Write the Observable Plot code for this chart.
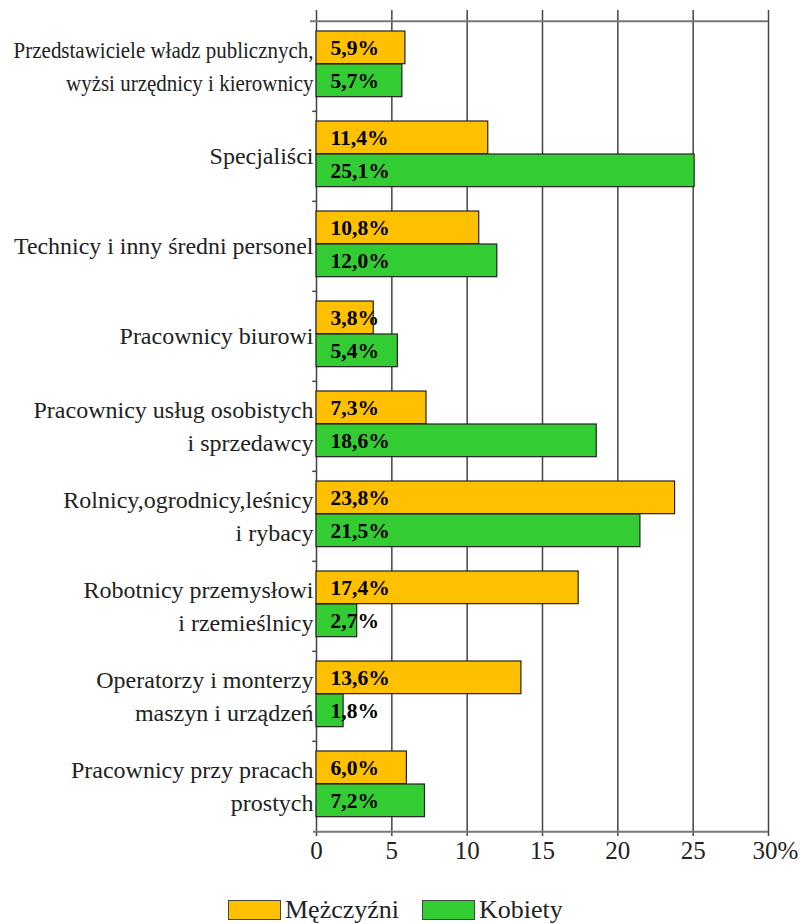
<!DOCTYPE html>
<html>
<head>
<meta charset="utf-8">
<script src="https://cdn.jsdelivr.net/npm/d3@7"></script>
<script src="https://cdn.jsdelivr.net/npm/@observablehq/plot@0.6"></script>
<style>
  body { margin: 0; background: #fff; font-family: "Liberation Serif", "Times New Roman", serif; position: relative; width: 804px; height: 924px; overflow: hidden; }
  #legend { position: absolute; left: 228px; top: 897px; display: flex; align-items: center; font-size: 26px; line-height: 26px; height: 26px; color: #222; }
  .sw { width: 53px; height: 20px; border: 1px solid #444; box-sizing: border-box; }
  .item { display: flex; align-items: center; gap: 4px; margin-right: 23px; }
</style>
</head>
<body>
<div id="chart"></div>
<div id="legend"></div>
<script>
const categories = [
  "Przedstawiciele władz publicznych,\nwyżsi urzędnicy i kierownicy",
  "Specjaliści",
  "Technicy i inny średni personel",
  "Pracownicy biurowi",
  "Pracownicy usług osobistych\ni sprzedawcy",
  "Rolnicy,ogrodnicy,leśnicy\ni rybacy",
  "Robotnicy przemysłowi\ni rzemieślnicy",
  "Operatorzy i monterzy\nmaszyn i urządzeń",
  "Pracownicy przy pracach\nprostych"
];
const men = [5.9, 11.4, 10.8, 3.8, 7.3, 23.8, 17.4, 13.6, 6.0];
const women = [5.7, 25.1, 12.0, 5.4, 18.6, 21.5, 2.7, 1.8, 7.2];
const seriesNames = ["Mężczyźni", "Kobiety"];
const seriesColors = ["#FFC000", "#33CC33"];
const xTicks = [0, 5, 10, 15, 20, 25];
const xLastTick = [30];
const gridTicks = [0, 5, 10, 15, 20, 25, 30];

const rows = categories.map((c, i) => ({cat: c, men: men[i], women: women[i]}));
const fmt = v => v.toFixed(1).replace(".", ",") + "%";

const height = 880;
const bw = (836 - 4 - 19) / categories.length;

const chart = Plot.plot({
  width: 804,
  height,
  marginLeft: 316,
  marginRight: 36,
  marginTop: 10,
  marginBottom: 44,
  x: {domain: [0, 30], axis: null},
  y: {type: "band", domain: categories, padding: 0, insetTop: 9, insetBottom: 4, axis: null},
  style: {fontFamily: "'Liberation Serif', 'Times New Roman', serif", background: "#fff"},
  marks: [
    Plot.ruleX(gridTicks, {stroke: "#444", strokeWidth: 1.5}),
    Plot.ruleY([categories[0]], {dy: -bw / 2, x1: -0.4, x2: 30, stroke: "#777", strokeWidth: 2}),
    Plot.ruleY([categories[categories.length - 1]], {dy: bw / 2, x1: -0.2, x2: 30, stroke: "#777", strokeWidth: 2}),
    Plot.ruleY(categories.slice(1), {dy: -bw / 2, x1: -0.25, x2: 0, stroke: "#444", strokeWidth: 1.5}),
    Plot.barX(rows, {y: "cat", x1: 0, x2: "men", fill: seriesColors[0], stroke: "#222", strokeWidth: 1.2, insetTop: 10, insetBottom: bw - 43}),
    Plot.barX(rows, {y: "cat", x1: 0, x2: "women", fill: seriesColors[1], stroke: "#222", strokeWidth: 1.2, insetTop: 43, insetBottom: bw - 76}),
    Plot.text(rows, {y: "cat", x: 0, dx: 14, dy: -18, text: d => fmt(d.men), textAnchor: "start", fontWeight: "bold", fontSize: 21.5, fill: "#000"}),
    Plot.text(rows, {y: "cat", x: 0, dx: 14, dy: 15, text: d => fmt(d.women), textAnchor: "start", fontWeight: "bold", fontSize: 21.5, fill: "#000"}),
    Plot.text(rows, {y: "cat", x: 0, dx: -3, dy: -3, text: "cat", textAnchor: "end", fontSize: 24, lineHeight: 1.375, fill: "#222", className: "catlabel"}),
    Plot.text(xTicks, {x: d => d, frameAnchor: "bottom", dy: 22, text: d => String(d), fontSize: 25, fill: "#222"}),
    Plot.text(xLastTick, {x: d => d, frameAnchor: "bottom", dy: 22, dx: -16, text: d => d + "%", textAnchor: "start", fontSize: 25, fill: "#222"})
  ]
});
document.getElementById("chart").appendChild(chart);

// condense category labels that are wider than the space to the left of the axis
d3.select(chart).selectAll(".catlabel text").each(function() {
  const w = this.getBBox().width;
  const maxW = 300;
  if (w > maxW) {
    const t = this.getAttribute("transform") || "";
    this.setAttribute("transform", t + ` scale(${maxW / w},1)`);
  }
});

const legend = document.getElementById("legend");
seriesNames.forEach((n, i) => {
  const item = document.createElement("div");
  item.className = "item";
  const sw = document.createElement("div");
  sw.className = "sw";
  sw.style.background = seriesColors[i];
  const t = document.createElement("span");
  t.textContent = n;
  item.appendChild(sw);
  item.appendChild(t);
  legend.appendChild(item);
});
</script>
</body>
</html>
